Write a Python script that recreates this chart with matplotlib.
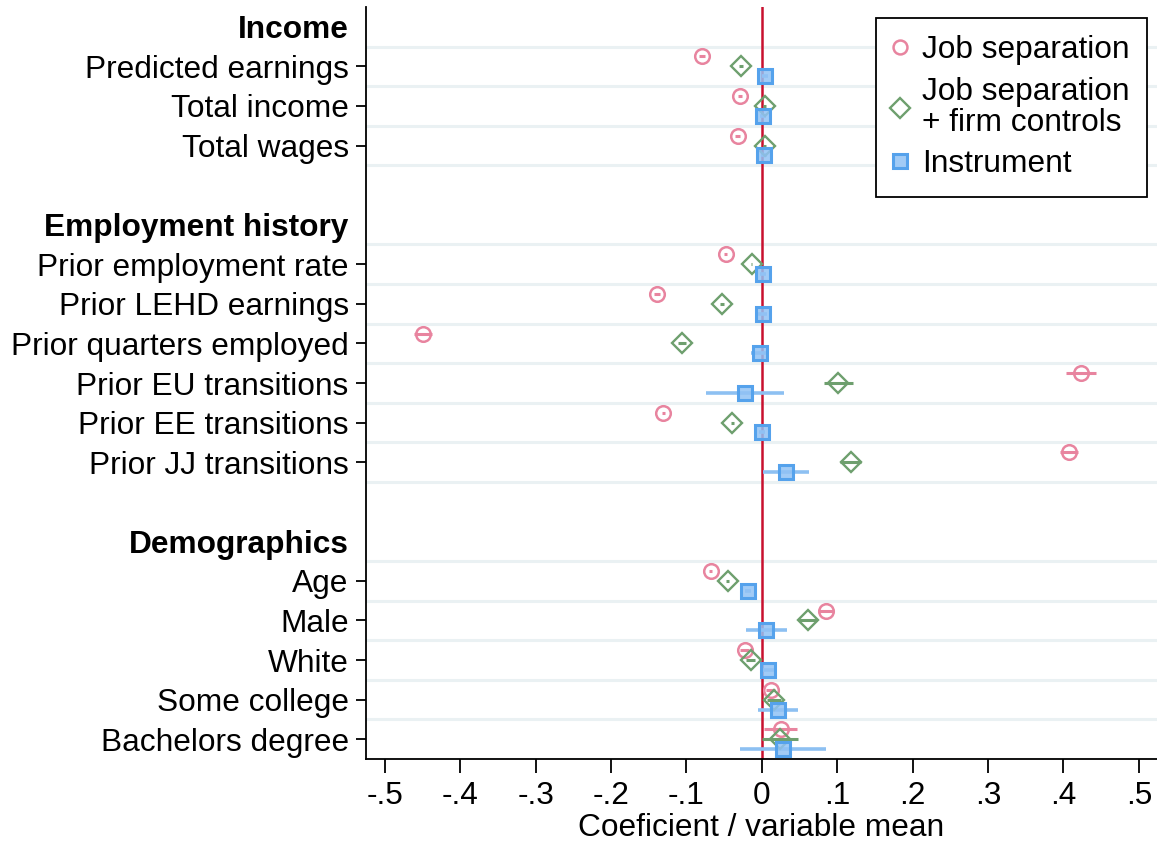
import matplotlib
matplotlib.use("Agg")
import matplotlib.pyplot as plt
from matplotlib.lines import Line2D
import numpy as np

plt.rcParams['font.family'] = ['Liberation Sans', 'DejaVu Sans']

# ---------------- data ----------------
groups = ["Income", "Employment history", "Demographics"]
group_vars = [
    ["Predicted earnings", "Total income", "Total wages"],
    ["Prior employment rate", "Prior LEHD earnings", "Prior quarters employed",
     "Prior EU transitions", "Prior EE transitions", "Prior JJ transitions"],
    ["Age", "Male", "White", "Some college", "Bachelors degree"],
]

job_sep = [-0.079, -0.029, -0.032,
           -0.048, -0.139, -0.449, 0.423, -0.131, 0.407,
           -0.068, 0.0845, -0.0225, 0.0115, 0.0248]
job_sep_ci = [0.004, 0.003, 0.003,
              0.002, 0.004, 0.012, 0.020, 0.002, 0.012,
              0.002, 0.010, 0.006, 0.006, 0.022]

firm = [-0.028, 0.004, 0.004,
        -0.0135, -0.053, -0.106, 0.1015, -0.039, 0.118,
        -0.0455, 0.0615, -0.015, 0.0163, 0.0235]
firm_ci = [0.003, 0.002, 0.002,
           0.001, 0.003, 0.005, 0.019, 0.002, 0.014,
           0.002, 0.012, 0.006, 0.009, 0.024]

instr = [0.004, 0.002, 0.003,
         0.002, 0.001, -0.002, -0.022, 0.000, 0.032,
         -0.018, 0.0057, 0.0084, 0.0216, 0.0283]
instr_ci = [0.004, 0.004, 0.004,
            0.004, 0.006, 0.012, 0.052, 0.004, 0.030,
            0.004, 0.027, 0.0115, 0.0265, 0.057]

xticks = [-0.5, -0.4, -0.3, -0.2, -0.1, 0, 0.1, 0.2, 0.3, 0.4, 0.5]
xticklabels = ["-.5", "-.4", "-.3", "-.2", "-.1", "0", ".1", ".2", ".3", ".4", ".5"]

# ---------------- layout of rows ----------------
row_labels, row_pos, header_pos, data_pos, grid_pos = [], [], [], [], []
r = 0
for gi, (g, vs) in enumerate(zip(groups, group_vars)):
    row_labels.append(g); row_pos.append(r); header_pos.append(r)
    r += 1
    for v in vs:
        row_labels.append(v); row_pos.append(r); data_pos.append(r)
        grid_pos.append(r - 0.5)
        r += 1
    grid_pos.append(r - 0.5)
    r += 1  # blank row
data_pos = np.array(data_pos, dtype=float)

# ---------------- figure ----------------
W, H = 1157, 844
fig = plt.figure(figsize=(W / 100, H / 100), dpi=100)
ax = fig.add_axes([366 / W, (H - 759) / H, (W - 366) / W, (759 - 7) / H])

FS = 22.8
pink = "#e8849f"
green = "#6e9f6e"
blue_edge = "#55a2ec"
blue_face = (0.57, 0.76, 0.96, 0.85)
blue_ci = "#8dc0f2"

for gp in grid_pos:
    ax.axhline(gp, color="#eaf1f3", lw=2.2, zorder=0)

ax.axvline(0, color="#c8102e", lw=1.8, zorder=1.5)

off = 0.25
# CIs
ax.hlines(data_pos - off, np.array(job_sep) - job_sep_ci, np.array(job_sep) + job_sep_ci,
          color=pink, lw=2.2, zorder=2)
ax.hlines(data_pos, np.array(firm) - firm_ci, np.array(firm) + firm_ci,
          color=green, lw=2.2, zorder=2)
ax.hlines(data_pos + off, np.array(instr) - instr_ci, np.array(instr) + instr_ci,
          color=blue_ci, lw=2.6, zorder=2)

# markers
ax.plot(job_sep, data_pos - off, linestyle="none", marker="o", ms=10.5,
        mfc="none", mec=pink, mew=1.8, zorder=3)
ax.plot(firm, data_pos, linestyle="none", marker="D", ms=10.5,
        mfc="none", mec=green, mew=1.7, zorder=3)
ax.plot(instr, data_pos + off, linestyle="none", marker="s", ms=10.5,
        mfc=blue_face, mec=blue_edge, mew=2.2, zorder=3)

ax.set_xlim(-0.525, 0.524)
ax.set_ylim(18.5, -0.5)

ax.set_xticks(xticks)
ax.set_xticklabels(xticklabels, fontsize=FS)
ax.set_yticks(row_pos)
ax.set_yticklabels(row_labels, fontsize=FS)
for t, p in zip(ax.get_yticklabels(), row_pos):
    if p in header_pos:
        t.set_fontweight("bold")
for tk, p in zip(ax.yaxis.get_major_ticks(), row_pos):
    if p in header_pos:
        tk.tick1line.set_visible(False)

ax.tick_params(axis="y", length=7, width=1.3, pad=5.5, direction="out")
ax.tick_params(axis="x", length=10, width=1.3, pad=6, direction="out")
ax.set_xlabel("Coeficient / variable mean", fontsize=FS, labelpad=1)

for s in ["top", "right"]:
    ax.spines[s].set_visible(False)
for s in ["left", "bottom"]:
    ax.spines[s].set_linewidth(1.3)

handles = [
    Line2D([], [], linestyle="none", marker="o", ms=10, mfc="none", mec=pink, mew=1.8),
    Line2D([], [], linestyle="none", marker="D", ms=10.5, mfc="none", mec=green, mew=1.7),
    Line2D([], [], linestyle="none", marker="s", ms=10, mfc=blue_face,
           mec=blue_edge, mew=2.2),
]
leg = fig.legend(handles, ["Job separation", "Job separation\n+ firm controls", "Instrument"],
                 loc="upper right", bbox_to_anchor=(1147 / W, 1 - 18 / H),
                 borderaxespad=0, fontsize=FS, frameon=True, fancybox=False,
                 edgecolor="black", framealpha=1, handlelength=0.4,
                 handletextpad=0.5, borderpad=0.55, labelspacing=0.36)
leg.get_frame().set_linewidth(1.3)
for t in leg.get_texts():
    t.set_linespacing(1.05)

fig.savefig("out.png", dpi=100)
